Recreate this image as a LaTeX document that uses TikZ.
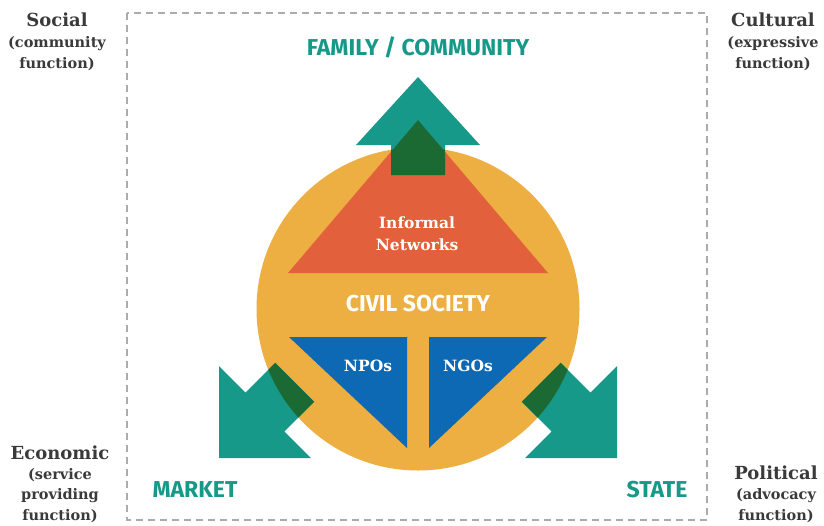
\documentclass[tikz,border=0pt]{standalone}
\usepackage{fontspec}
\setmainfont{DejaVu Serif}
\newfontfamily\headfont{Fira Sans}
\usetikzlibrary{calc}
\definecolor{arrowteal}{HTML}{17998A}
\definecolor{overlapgreen}{HTML}{1B6A33}
\definecolor{civilorange}{HTML}{EDAE42}
\definecolor{informalred}{HTML}{E2613C}
\definecolor{ngoblue}{HTML}{0E69B4}
\definecolor{labelgrey}{HTML}{3A3A3A}
\definecolor{frame}{HTML}{ABABAB}
\tikzset{
	corner/.style={align=center, text=labelgrey, inner sep=0pt, font=\bfseries\fontsize{14.5}{21}\selectfont},
	sector/.style={text=arrowteal, inner sep=0pt, font=\headfont\bfseries\fontsize{23}{26}\selectfont},
	inside/.style={text=white, align=center, inner sep=0pt, font=\bfseries\fontsize{15.5}{22}\selectfont}
}

\begin{document}
\begin{tikzpicture}[x=1pt, y=-1pt]
			%%%%% START %%%%%
			
			\useasboundingbox[fill=white] (0, 0) rectangle (824, 525);
			
			\draw[frame, line width=1.8pt, dash pattern=on 7pt off 5pt] (127, 13) rectangle (707, 520);
			
			% civil society disc and its three parts
			\fill[civilorange] (418, 309) circle (161.5);
			\fill[informalred] (418, 120) -- (548, 273) -- (288, 273) -- cycle;
			\fill[ngoblue] (289, 337) -- (407, 337) -- (407, 448) -- cycle;
			\fill[ngoblue] (429, 337) -- (547, 337) -- (429, 448) -- cycle;
			
			% arrows
			\fill[arrowteal] (418, 77) -- (480, 145) -- (445, 145) -- (445, 175) -- (391, 175) -- (391, 145) -- (356, 145) -- cycle;
			\fill[arrowteal] (219, 458) -- (219, 366) -- (245.6, 392.6) -- (275.3, 362.9) -- (314.1, 401.7) -- (284.4, 431.4) -- (311, 458) -- cycle;
			\fill[arrowteal] (617, 458) -- (617, 366) -- (590.4, 392.6) -- (560.7, 362.9) -- (521.9, 401.7) -- (551.6, 431.4) -- (525, 458) -- cycle;
			
			\begin{scope}
				\clip (418, 309) circle (161.5);
				\fill[overlapgreen] (391, 145) rectangle (445, 175);
				\fill[overlapgreen] (245.6, 392.6) -- (275.3, 362.9) -- (314.1, 401.7) -- (284.4, 431.4) -- cycle;
				\fill[overlapgreen] (590.4, 392.6) -- (560.7, 362.9) -- (521.9, 401.7) -- (551.6, 431.4) -- cycle;
			\end{scope}
			\begin{scope}
				\clip (418, 120) -- (548, 273) -- (288, 273) -- cycle;
				\fill[overlapgreen] (418, 77) -- (480, 145) -- (445, 145) -- (445, 175) -- (391, 175) -- (391, 145) -- (356, 145) -- cycle;
			\end{scope}
			
			% texts
			\node[inside] (informal) at (417, 234) {Informal\\Networks};
			\node[inside, font=\headfont\bfseries\fontsize{23}{26}\selectfont] (civil) at (418, 304) {CIVIL SOCIETY};
			\node[inside] (npos) at (368, 366) {NPOs};
			\node[inside] (ngos) at (468, 366) {NGOs};
			
			\node[sector] (family) at (418, 47) {FAMILY / COMMUNITY};
			\node[sector] (market) at (195, 490) {MARKET};
			\node[sector] (state) at (657, 490) {STATE};
			
			\node[corner] (social) at (57, 42) {{\fontsize{18}{21}\selectfont Social}\\(community\\function)};
			\node[corner] (cultural) at (773, 42) {{\fontsize{18}{21}\selectfont Cultural}\\(expressive\\function)};
			\node[corner, font=\bfseries\fontsize{14.5}{20.3}\selectfont] (economic) at (60, 484) {{\fontsize{18}{20.3}\selectfont Economic}\\(service\\providing\\function)};
			\node[corner, font=\bfseries\fontsize{14.5}{20.3}\selectfont] (political) at (776, 494) {{\fontsize{18}{20.3}\selectfont Political}\\(advocacy\\function)};
			
			%%%%% END %%%%%
\end{tikzpicture}
\end{document}
